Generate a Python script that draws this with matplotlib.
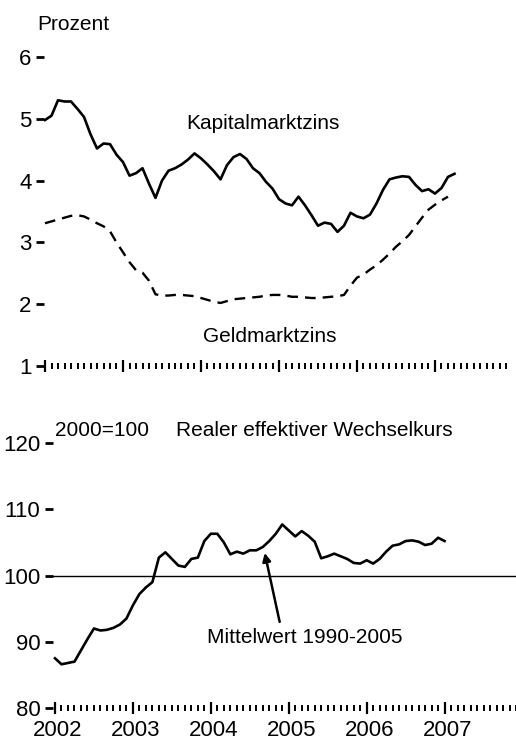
import matplotlib
matplotlib.use("Agg")
import matplotlib.pyplot as plt
import matplotlib.transforms as mtransforms
import numpy as np

plt.rcParams['font.family'] = ['Liberation Sans', 'DejaVu Sans']

# monthly values, Jan 2002 onwards
kapitalmarkt = [4.98, 5.05, 5.30, 5.28, 5.28, 5.16, 5.03, 4.75, 4.52, 4.60,
                4.59, 4.42, 4.30, 4.08, 4.12, 4.20, 3.95, 3.72, 4.00, 4.16,
                4.20, 4.26, 4.34, 4.44, 4.36, 4.26, 4.15, 4.02, 4.25, 4.38,
                4.43, 4.35, 4.20, 4.12, 3.98, 3.87, 3.70, 3.63, 3.60, 3.74,
                3.60, 3.44, 3.27, 3.32, 3.30, 3.17, 3.27, 3.48, 3.42, 3.39,
                3.45, 3.63, 3.85, 4.02, 4.05, 4.07, 4.06, 3.93, 3.83, 3.86,
                3.79, 3.88, 4.06, 4.11]
geldmarkt = [3.31, 3.34, 3.37, 3.40, 3.43, 3.44, 3.42, 3.37, 3.31, 3.26,
             3.18, 3.00, 2.84, 2.68, 2.55, 2.51, 2.38, 2.16, 2.14, 2.14,
             2.15, 2.15, 2.14, 2.13, 2.10, 2.07, 2.04, 2.02, 2.05, 2.08,
             2.09, 2.10, 2.11, 2.12, 2.14, 2.15, 2.15, 2.14, 2.12, 2.12,
             2.11, 2.10, 2.10, 2.11, 2.12, 2.13, 2.15, 2.30, 2.43, 2.48,
             2.56, 2.63, 2.72, 2.82, 2.93, 3.02, 3.12, 3.26, 3.40, 3.53,
             3.61, 3.68, 3.74]
wechselkurs = [87.5, 86.6, 86.8, 87.0, 88.7, 90.4, 92.0, 91.7, 91.8, 92.1,
               92.6, 93.5, 95.5, 97.2, 98.2, 99.0, 102.7, 103.5, 102.5, 101.5,
               101.3, 102.5, 102.7, 105.2, 106.3, 106.3, 105.0, 103.2, 103.6, 103.3,
               103.8, 103.8, 104.3, 105.2, 106.3, 107.7, 106.8, 105.9, 106.7, 106.0,
               105.1, 102.6, 102.9, 103.3, 102.9, 102.5, 101.9, 101.8, 102.3, 101.8,
               102.5, 103.6, 104.5, 104.7, 105.2, 105.3, 105.1, 104.6, 104.8, 105.7,
               105.2]
mittelwert = 100
years = ['2002', '2003', '2004', '2005', '2006', '2007']

W, H = 516, 744
fig = plt.figure(figsize=(W / 100, H / 100), dpi=100)

def px_axes(left, top, bottom):
    return fig.add_axes([left / W, 1 - bottom / H, (W - left) / W, (bottom - top) / H])

def style(ax, yticks, ylim, xlim):
    for s in ax.spines.values():
        s.set_visible(False)
    ax.set_xlim(*xlim)
    ax.set_ylim(*ylim)
    ax.set_yticks(yticks)
    ax.tick_params(axis='y', direction='out', length=6, width=2, pad=3, labelsize=16)
    ax.set_xticks(np.arange(0, 12 * len(years), 12))
    ax.set_xticks(np.arange(0, 72), minor=True)
    ax.tick_params(axis='x', which='major', direction='inout', length=9, width=1.6)
    ax.tick_params(axis='x', which='minor', direction='inout', length=4, width=1.4)

# top panel: interest rates
ax1 = px_axes(44, 57, 366)
style(ax1, [1, 2, 3, 4, 5, 6], (1, 6), ((44 - 45) / 6.5, (516 - 45) / 6.5))
ax1.set_xticklabels([])
ax1.plot(np.arange(len(kapitalmarkt)), kapitalmarkt, color='black', lw=1.9)
ax1.plot(np.arange(len(geldmarkt)), geldmarkt, color='black', lw=1.7,
         linestyle=(0, (4.5, 3)))
ax1.text(33.5, 4.93, 'Kapitalmarktzins', ha='center', va='center', fontsize=15)
ax1.text(34.5, 1.47, 'Geldmarktzins', ha='center', va='center', fontsize=15)
fig.text(37 / W, 1 - 25 / H, 'Prozent', ha='left', va='center', fontsize=15)

# bottom panel: real effective exchange rate
ax2 = px_axes(53, 443, 708)
style(ax2, [80, 90, 100, 110, 120], (80, 120), ((53 - 55) / 6.5, (516 - 55) / 6.5))
ax2.set_xticklabels(years)
ax2.tick_params(axis='x', which='major', labelsize=16, pad=4)
shift = mtransforms.ScaledTranslation(3 / 100, 0, fig.dpi_scale_trans)
for lab in ax2.get_xticklabels():
    lab.set_transform(lab.get_transform() + shift)
ax2.axhline(mittelwert, color='black', lw=1.0)
ax2.plot(np.arange(len(wechselkurs)), wechselkurs, color='black', lw=1.9)
ax2.annotate('', xy=(32.3, 103.4), xytext=(34.6, 93.0),
             arrowprops=dict(arrowstyle='-|>', color='black', lw=1.8,
                             mutation_scale=12, shrinkA=0, shrinkB=0))
ax2.text(38.5, 90.6, 'Mittelwert 1990-2005', ha='center', va='center', fontsize=15)
fig.text(102 / W, 1 - 430 / H, '2000=100', ha='center', va='center', fontsize=15)
fig.text(314 / W, 1 - 430 / H, 'Realer effektiver Wechselkurs', ha='center',
         va='center', fontsize=15)

fig.savefig('out.png', dpi=100)
